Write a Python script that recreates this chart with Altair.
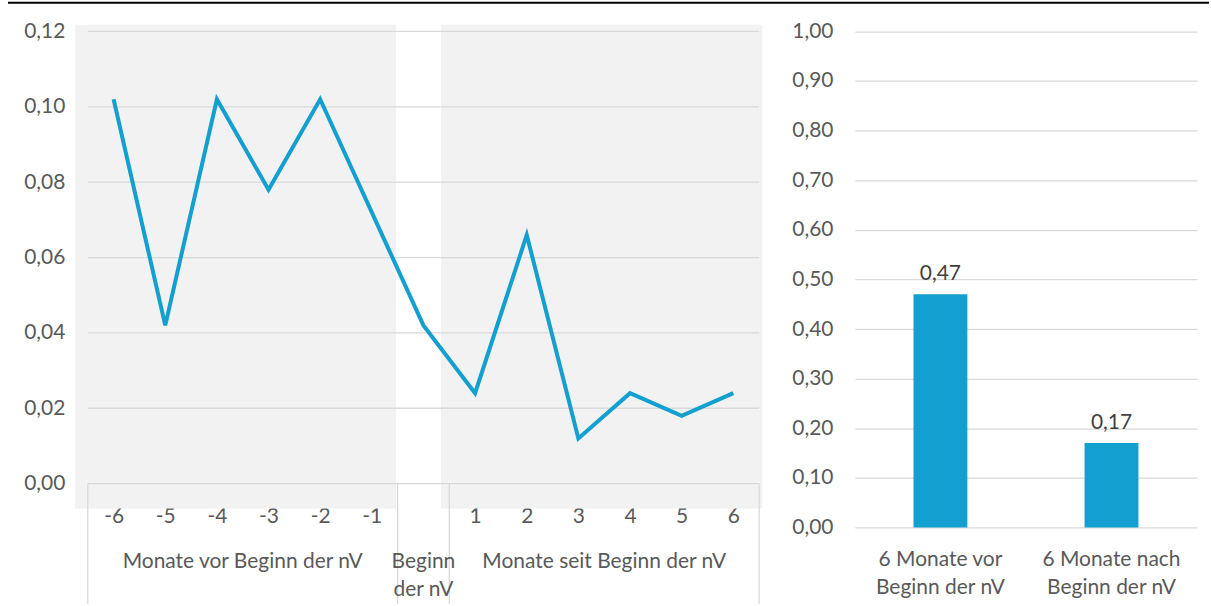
import json

import altair as alt
import pandas as pd

# ---- data -------------------------------------------------------------
MONTHS = ["-6", "-5", "-4", "-3", "-2", "-1", "Beginn", "1", "2", "3", "4", "5", "6"]
RATE = [0.102, 0.042, 0.102, 0.078, 0.102, 0.072, 0.042,
        0.024, 0.066, 0.012, 0.024, 0.018, 0.024]
GROUPS = ["Monate vor Beginn der nV", "Beginn der nV", "Monate seit Beginn der nV"]
Y_TICKS_LEFT = [0.00, 0.02, 0.04, 0.06, 0.08, 0.10, 0.12]

PERIODS = ["6 Monate vor Beginn der nV", "6 Monate nach Beginn der nV"]
PERIOD_RATE = [0.47, 0.17]
Y_TICKS_RIGHT = [0.0, 0.1, 0.2, 0.3, 0.4, 0.5, 0.6, 0.7, 0.8, 0.9, 1.0]

# ---- styling ----------------------------------------------------------
BLUE = "#13a0d0"
GRID = "#d9d9d9"
SHADE = "#f2f2f2"
TEXT = "#595959"
FONT = "Lato"
FS = 21

LEFT_W, LEFT_H = 673, 485
RIGHT_W, RIGHT_H = 343, 504
GROUP_LABEL_Y = 528      # top of the group-name row, below the month numbers

# shaded panels behind the two month ranges (in month-index units)
SHADED = [(-0.75, 5.47), (6.34, 12.56)]
# frame lines separating the category groups below the plot
SEPARATORS = [-0.5, 5.5, 6.5, 12.5]

COMMA_FMT = "replace(format(datum.value, '.2f'), '.', ',')"

# ---- left panel: monthly line ----------------------------------------
idx = list(range(len(MONTHS)))
line_df = pd.DataFrame({"idx": idx, "rate": RATE})

# month numbers as tick labels; the "Beginn" slot is labelled in the group row
month_labels = [m if m != "Beginn" else "" for m in MONTHS]
x_label_expr = f"{json.dumps(month_labels)}[datum.value]"

# group captions centred under their months
start = MONTHS.index("Beginn")
group_pos = [(0 + start - 1) / 2, start, (start + 1 + len(MONTHS) - 1) / 2]
group_text = [GROUPS[0], GROUPS[1].replace(" ", "\n", 1), GROUPS[2]]
group_df = pd.DataFrame({"pos": group_pos, "name": group_text})

x_scale = alt.Scale(domain=[-0.5, 12.5], nice=False, zero=False)
x_axis = alt.Axis(values=idx, labelExpr=x_label_expr, title=None,
                  domain=False, ticks=False, grid=False, labelOverlap=False,
                  labelFlush=False, labelBaseline="top", labelPadding=-3,
                  labelAngle=0)
y_scale_l = alt.Scale(domain=[-0.0066, 0.1218], nice=False, zero=False)
y_axis_l = alt.Axis(values=Y_TICKS_LEFT, labelExpr=COMMA_FMT, title=None,
                    domain=False, ticks=False, grid=False, labelPadding=23)

shade_df = pd.DataFrame({"x0": [s[0] for s in SHADED], "x1": [s[1] for s in SHADED]})
shade = alt.Chart(shade_df).mark_rect(color=SHADE).encode(
    x=alt.X("x0:Q", scale=x_scale, axis=x_axis),
    x2="x1:Q",
    y=alt.value(0),
    y2=alt.value(LEFT_H),
)

grid_l = alt.Chart(pd.DataFrame({"tick": Y_TICKS_LEFT})).mark_rule(
    color=GRID, strokeWidth=1.3
).encode(y=alt.Y("tick:Q", scale=y_scale_l, axis=y_axis_l))

sep = alt.Chart(pd.DataFrame({"b": SEPARATORS})).mark_rule(
    color=GRID, strokeWidth=1.3
).encode(
    x=alt.X("b:Q", scale=x_scale, axis=x_axis),
    y=alt.datum(0, scale=y_scale_l, axis=y_axis_l),
    y2=alt.value(581),
)

groups = alt.Chart(group_df).mark_text(
    font=FONT, fontSize=FS, color=TEXT, baseline="top", align="center",
    lineBreak="\n", lineHeight=28,
).encode(
    x=alt.X("pos:Q", scale=x_scale, axis=x_axis),
    y=alt.value(GROUP_LABEL_Y),
    text="name:N",
)

line = alt.Chart(line_df).mark_line(color=BLUE, strokeWidth=4).encode(
    x=alt.X("idx:Q", scale=x_scale, axis=x_axis),
    y=alt.Y("rate:Q", scale=y_scale_l, axis=y_axis_l),
)

# heavy rule running across the top of the figure
top_rule = alt.Chart(alt.Data(values=[{}])).mark_rule(
    color="black", strokeWidth=2.2
).encode(x=alt.value(-80), x2=alt.value(1124), y=alt.value(-22))

left = alt.layer(shade, grid_l, sep, groups, line, top_rule).properties(
    width=LEFT_W, height=LEFT_H
)

# ---- right panel: 6-month totals --------------------------------------
bar_df = pd.DataFrame({"period": PERIODS, "rate": PERIOD_RATE})
period_lines = [[" ".join(p.split()[:3]), " ".join(p.split()[3:])] for p in PERIODS]
p_label_expr = f"{json.dumps(period_lines)}[indexof({json.dumps(PERIODS)}, datum.value)]"

x_band = alt.X("period:N", sort=PERIODS,
               scale=alt.Scale(paddingInner=0, paddingOuter=0),
               axis=alt.Axis(title=None, labelExpr=p_label_expr, labelAngle=0,
                             domain=False, ticks=False, labelBaseline="top",
                             labelPadding=21, labelLineHeight=28, labelLimit=400))
y_r = alt.Y("rate:Q",
            scale=alt.Scale(domain=[0, 1.0135], nice=False, zero=False),
            axis=alt.Axis(values=Y_TICKS_RIGHT, labelExpr=COMMA_FMT, title=None,
                          domain=False, ticks=False, grid=True, gridColor=GRID,
                          gridWidth=1.3, labelPadding=22))

bars = alt.Chart(bar_df).mark_bar(size=54, color=BLUE).encode(x=x_band, y=y_r)
bar_text = alt.Chart(bar_df).transform_calculate(
    lbl="replace(format(datum.rate, '.2f'), '.', ',')"
).mark_text(font=FONT, fontSize=FS, color="#404040", baseline="alphabetic", dy=-14).encode(
    x=x_band, y=y_r, text="lbl:N"
)

right = alt.layer(bars, bar_text).properties(width=RIGHT_W, height=RIGHT_H)

chart = alt.hconcat(left, right, spacing=96, bounds="flush").properties(
    padding={"left": 6, "top": 0, "right": 0, "bottom": 0}
).configure(font=FONT).configure_view(stroke=None).configure_axis(
    labelFont=FONT, labelFontSize=FS, labelColor=TEXT
)

chart.save("out.html", embed_options={"renderer": "svg", "actions": False})
